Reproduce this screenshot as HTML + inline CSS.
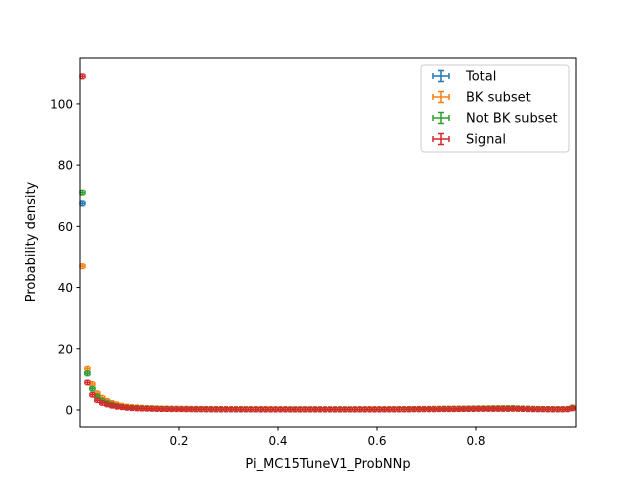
<!DOCTYPE html>
<html><head><meta charset="utf-8"><style>
body{margin:0;background:#fff}
svg{display:block;font-family:"DejaVu Sans","Liberation Sans",sans-serif}
</style></head><body>
<svg id="chart" width="640" height="480">
<rect x="0" y="0" width="640" height="480" fill="#fff"/>
<g id="marks"></g>
<rect x="80" y="58" width="496" height="369" fill="none" stroke="#000" stroke-width="1"/>
<g id="axes"></g>
<text x="328" y="468" font-size="13" text-anchor="middle">Pi_MC15TuneV1_ProbNNp</text>
<text transform="translate(35,242) rotate(-90)" font-size="13" text-anchor="middle">Probability density</text>
<g id="legend">
<rect x="421" y="65" width="148" height="87" rx="3" fill="#fff" fill-opacity="0.8" stroke="#ccc"/>
</g>
</svg>
<script>
const labels=["Total","BK subset","Not BK subset","Signal"];
const colors=["#1f77b4","#ff7f0e","#2ca02c","#d62728"];
const xTicks=[0.2,0.4,0.6,0.8];
const yTicks=[0,20,40,60,80,100];
const total=[67.5,12,7,4.5,3.2,2.4,1.8,1.4,1.1,0.9,0.8,0.7,0.6,0.55,0.5,0.45,0.42,0.4,0.38,0.36,0.34,0.33,0.32,0.31,0.3,0.29,0.28,0.28,0.27,0.27,0.26,0.26,0.25,0.25,0.25,0.24,0.24,0.24,0.23,0.23,0.23,0.23,0.22,0.22,0.22,0.22,0.22,0.22,0.22,0.22,0.22,0.22,0.22,0.22,0.22,0.22,0.23,0.23,0.23,0.23,0.24,0.24,0.25,0.25,0.26,0.27,0.28,0.29,0.3,0.31,0.32,0.34,0.35,0.37,0.39,0.4,0.42,0.44,0.45,0.47,0.48,0.5,0.5,0.52,0.53,0.53,0.54,0.55,0.5,0.45,0.4,0.35,0.3,0.3,0.28,0.28,0.27,0.27,0.3,0.7];
const bk=[47,13.5,8.5,5.5,4,3,2.3,1.8,1.4,1.1,0.95,0.85,0.75,0.68,0.62,0.56,0.52,0.48,0.45,0.43,0.41,0.4,0.38,0.37,0.36,0.35,0.34,0.33,0.32,0.32,0.31,0.31,0.3,0.3,0.3,0.29,0.29,0.29,0.28,0.28,0.28,0.28,0.27,0.27,0.27,0.27,0.27,0.27,0.27,0.27,0.27,0.27,0.27,0.27,0.27,0.27,0.28,0.28,0.28,0.28,0.29,0.29,0.3,0.3,0.31,0.32,0.33,0.35,0.36,0.37,0.39,0.4,0.42,0.44,0.46,0.48,0.5,0.52,0.54,0.56,0.58,0.6,0.6,0.62,0.63,0.63,0.64,0.65,0.6,0.54,0.48,0.42,0.36,0.35,0.33,0.33,0.32,0.32,0.36,0.85];
const notbk=[71,12,7,4.5,3,2.2,1.6,1.25,1,0.82,0.72,0.63,0.55,0.5,0.45,0.41,0.38,0.36,0.34,0.32,0.31,0.3,0.29,0.28,0.27,0.26,0.25,0.25,0.24,0.24,0.23,0.23,0.23,0.22,0.22,0.22,0.22,0.21,0.21,0.21,0.21,0.21,0.2,0.2,0.2,0.2,0.2,0.2,0.2,0.2,0.2,0.2,0.2,0.2,0.2,0.2,0.21,0.21,0.21,0.21,0.22,0.22,0.23,0.23,0.24,0.25,0.26,0.27,0.28,0.29,0.3,0.32,0.33,0.35,0.37,0.38,0.4,0.42,0.43,0.45,0.46,0.48,0.48,0.5,0.51,0.51,0.52,0.53,0.48,0.43,0.38,0.33,0.28,0.28,0.26,0.26,0.25,0.25,0.28,0.65];
const signal=[109,9,5,3.2,2.3,1.8,1.4,1.1,0.9,0.7,0.6,0.52,0.46,0.41,0.37,0.34,0.31,0.29,0.27,0.26,0.25,0.24,0.23,0.22,0.21,0.2,0.2,0.19,0.19,0.18,0.18,0.18,0.17,0.17,0.17,0.17,0.16,0.16,0.16,0.16,0.16,0.16,0.15,0.15,0.15,0.15,0.15,0.15,0.15,0.15,0.15,0.15,0.15,0.15,0.15,0.15,0.16,0.16,0.16,0.16,0.16,0.17,0.17,0.18,0.18,0.19,0.2,0.21,0.22,0.22,0.23,0.24,0.25,0.26,0.27,0.28,0.29,0.3,0.31,0.32,0.33,0.34,0.34,0.35,0.36,0.36,0.36,0.37,0.33,0.3,0.27,0.24,0.21,0.21,0.2,0.2,0.19,0.19,0.21,0.5];
const series=[total,bk,notbk,signal];
const NS="http://www.w3.org/2000/svg";
const X0=80,X1=576,Y0=427,Y1=58,xmin=0,xmax=1.002,ymin=-5.56,ymax=115;
const sx=v=>X0+(v-xmin)/(xmax-xmin)*(X1-X0);
const sy=v=>Y0-(v-ymin)/(ymax-ymin)*(Y0-Y1);
function mk(tag,attrs,parent){const e=document.createElementNS(NS,tag);for(const k in attrs)e.setAttribute(k,attrs[k]);parent.appendChild(e);return e;}
const marks=document.getElementById('marks');
series.forEach((vals,si)=>{
  const g=mk('g',{stroke:colors[si],'stroke-width':1.5,fill:'none'},marks);
  
  
  vals.forEach((v,i)=>{
    const xc=(i+0.5)/vals.length;const hw=0.5/vals.length;
    const y=sy(v), x=sx(xc), xl=sx(xc-hw), xr=sx(xc+hw);
    const d=`M${xl},${y}H${xr}M${x},${y-2.2}V${y+2.2}M${xl},${y-2}V${y+2}M${xr},${y-2}V${y+2}M${x-2},${y-2.2}H${x+2}M${x-2},${y+2.2}H${x+2}`;
    const p=mk('path',{d:d},g);
    
    
  });
});
const axes=document.getElementById('axes');
xTicks.forEach(t=>{
  const x=sx(t);
  const l=mk('line',{x1:x,x2:x,y1:Y0,y2:Y0+3.5,stroke:'#000'},axes);
  
  
  const tx=mk('text',{x:x,y:Y0+18,'font-size':12,'text-anchor':'middle'},axes);
  tx.textContent=t.toFixed(1);
  
  
});
yTicks.forEach(t=>{
  const y=sy(t);
  const l=mk('line',{x1:X0-3.5,x2:X0,y1:y,y2:y,stroke:'#000'},axes);
  
  
  const tx=mk('text',{x:X0-7,y:y+4.5,'font-size':12,'text-anchor':'end'},axes);
  tx.textContent=t;
  
  
});
const lg=document.getElementById('legend');
labels.forEach((lb,i)=>{
  const y=76+i*21;
  const g=mk('g',{},lg);
  
  
  mk('path',{d:`M433,${y}H449M441,${y-5.5}V${y+5.5}M433,${y-3}V${y+3}M449,${y-3}V${y+3}M438,${y-5.5}H444M438,${y+5.5}H444`,stroke:colors[i],'stroke-width':1.5,fill:'none'},g);
  const t=mk('text',{x:466,y:y+4.5,'font-size':13},g);
  t.textContent=lb;
});
</script>
</body></html>
